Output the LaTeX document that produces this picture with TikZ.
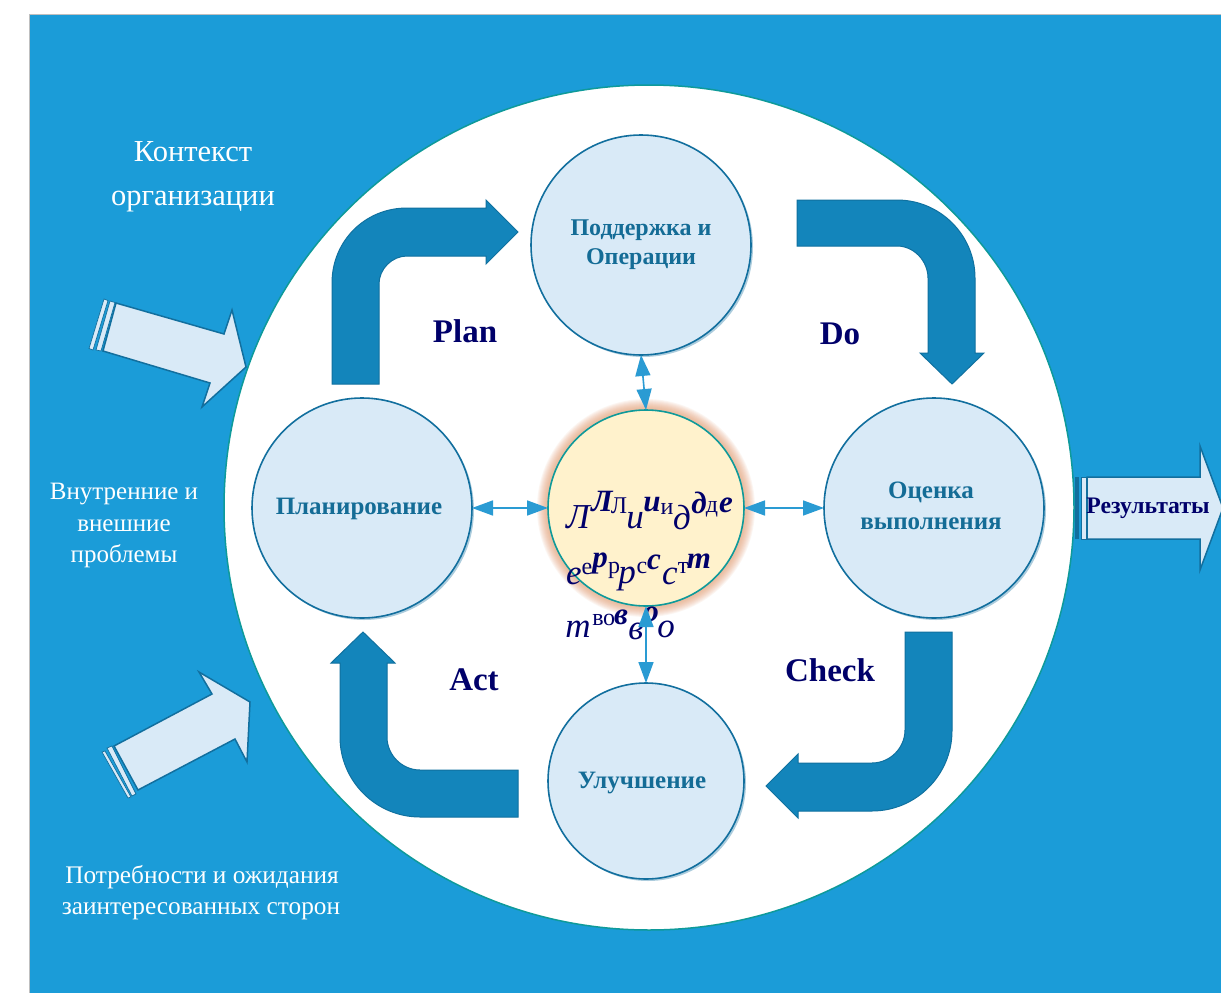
\documentclass[tikz,border=0pt]{standalone}
\usepackage{fontspec}
\setmainfont{Liberation Serif}
\usetikzlibrary{arrows.meta,shapes.geometric}
\definecolor{bgblue}{HTML}{1B9CD8}
\definecolor{arrowblue}{HTML}{1385BB}
\definecolor{paleblue}{HTML}{D9EAF7}
\definecolor{edgeblue}{HTML}{126F9E}
\definecolor{tealedge}{HTML}{0E9A9A}
\definecolor{creamfill}{HTML}{FFF2CC}
\definecolor{glowc}{HTML}{E39A6C}
\definecolor{navytxt}{HTML}{00006A}
\definecolor{titletxt}{HTML}{146C96}
\definecolor{linkblue}{HTML}{2A9BD3}
\tikzset{
  x=1pt,y=-1pt,
  stepcircle/.style={circle,draw=edgeblue,line width=1.6pt,fill=paleblue,inner sep=0pt,outer sep=0pt,minimum size=#1,align=center,text=titletxt,font=\fontsize{24}{29}\selectfont\bfseries},
  steplabel/.style={text=titletxt,inner sep=0pt,align=center,font=\fontsize{25}{31}\selectfont\bfseries},
  bentarrow/.style={fill=arrowblue,draw=arrowblue!85!black,line width=1pt},
  inarrow/.style={fill=paleblue,draw=edgeblue,line width=1.5pt,line join=miter},
  stripe/.style={fill=paleblue,draw=edgeblue,line width=0.7pt},
  whitetxt/.style={text=white,align=center,inner sep=0pt,font=\fontsize{#1}{#1}\selectfont},
  pdca/.style={text=navytxt,inner sep=0pt,font=\fontsize{33}{33}\selectfont\bfseries},
  link/.style={draw=linkblue,line width=1.6pt,{Triangle[length=21pt,width=15pt]}-{Triangle[length=21pt,width=15pt]}},
  gi/.style={text=navytxt,inner sep=0pt,font=\fontsize{35}{35}\selectfont\itshape},
  gb/.style={text=navytxt,inner sep=0pt,font=\fontsize{31}{31}\selectfont\bfseries\itshape},
  gr/.style={text=navytxt,inner sep=0pt,font=\fontsize{24}{24}\selectfont},
}
\begin{document}
\begin{tikzpicture}
\useasboundingbox (0,0) rectangle (1221,993);
\fill[white] (0,0) rectangle (1221,993);
\fill[bgblue] (29,14) rectangle (1221,993);
\draw[gray!50,line width=1pt] (29,993) -- (29,14) -- (1221,14);
% big white disc
\node[ellipse,draw=tealedge,line width=1.5pt,fill=white,inner sep=0pt,outer sep=0pt,minimum width=850pt,minimum height=845pt] (disc) at (649,507.5) {};
% input arrows
\draw[inarrow] (116,303) -- (224,334) -- (232,310) -- (246,367) -- (202,407) -- (210,383) -- (103,351) -- cycle;
\draw[stripe] (104,299) -- (108,300.5) -- (93,350) -- (89,348.5) -- cycle;
\draw[stripe] (110,301) -- (115,302.5) -- (101,351) -- (96,350) -- cycle;
\draw[inarrow] (114,746) -- (212,694) -- (199,672) -- (250,702) -- (247,762) -- (235,739) -- (138,790) -- cycle;
\draw[stripe] (102,752) -- (105,751) -- (131,797) -- (128,798) -- cycle;
\draw[stripe] (107,748) -- (112,746) -- (136,794) -- (132,796) -- cycle;
% output arrow
\fill[edgeblue] (1075,477) rectangle (1079,539);
\draw[stripe,line width=1pt] (1081,477) rectangle (1086,539);
\draw[inarrow] (1087,477) -- (1200,477) -- (1200,446) -- (1223,508) -- (1200,570) -- (1200,539) -- (1087,539) -- cycle;
% bent arrows
\draw[bentarrow] (332,384) -- (332,283) .. controls (332,241) and (365,208) .. (407,208) -- (486,208) -- (486,200) -- (518,232) -- (486,264) -- (486,256) -- (407,256) .. controls (392,256) and (379,269) .. (379,284) -- (379,384) -- cycle;
\draw[bentarrow] (797,200) -- (897,200) .. controls (940,200) and (975,235) .. (975,278) -- (975,353) -- (984,353) -- (952,384) -- (920,353) -- (928,353) -- (928,278) .. controls (928,261) and (914,246) .. (897,246) -- (797,246) -- cycle;
\draw[bentarrow] (905,632) -- (905,730) .. controls (905,748) and (890,763) .. (872,763) -- (798,763) -- (798,754) -- (766,786) -- (798,818) -- (798,811) -- (872,811) .. controls (916,811) and (952,775) .. (952,731) -- (952,632) -- cycle;
\draw[bentarrow] (518,770) -- (420,770) .. controls (402,770) and (387,755) .. (387,737) -- (387,663) -- (395,663) -- (363,632) -- (331,663) -- (340,663) -- (340,737) .. controls (340,781) and (376,817) .. (420,817) -- (518,817) -- cycle;
% shadows
\foreach \cx/\cy/\r in {641/245/110,362/508/110,934/508/110,646/781/98}{
  \fill[edgeblue,opacity=.35] (\cx+2,\cy+2) circle (\r);
}
% glow
\foreach \r in {109,108,107,106,105,104,103,102,101,100}{
  \fill[glowc,opacity=.09] (646,508) circle (\r);
}
% step circles
\node[stepcircle=220pt] (top) at (641,245) {Поддержка и\\Операции};
\node[stepcircle=220pt] (left) at (362,508) {};
\node[stepcircle=220pt] (right) at (934,508) {};
\node[stepcircle=196pt] (bottom) at (646,781) {};
\node[circle,draw=tealedge,line width=1.6pt,fill=creamfill,inner sep=0pt,outer sep=0pt,minimum size=196pt] (centre) at (646,508) {};
\node[steplabel] (t1) at (359,509) {Планирование};
\node[steplabel] (t2) at (931,505.5) {Оценка\\выполнения};
\node[steplabel] (t3) at (642,783) {Улучшение};
% links
\draw[link] (top.south) -- (centre.north);
\draw[link] (left.east) -- (centre.west);
\draw[link] (right.west) -- (centre.east);
% garbled centre text: line 1
\node[gi] (a1) at (578,517) {Л};
\node[gb] (a2) at (602,501) {Л};
\node[gr] (a3) at (619,506) {Л};
\node[gi] (a4) at (635,521) {и};
\node[gb] (a5) at (652,505) {и};
\node[gr] (a6) at (667,509) {и};
\node[gi] (a7) at (682,518) {д};
\node[gb] (a8) at (699,503) {д};
\node[gr] (a9) at (712,509) {д};
\node[gb] (a10) at (726,505) {е};
% line 2
\node[gi] (b1) at (574,576) {е};
\node[gr] (b2) at (587,569) {е};
\node[gb] (b3) at (600,563) {р};
\node[gr] (b4) at (614,570) {р};
\node[gi] (b5) at (627,579) {р};
\node[gr] (b6) at (642,568) {с};
\node[gb] (b7) at (654,562) {с};
\node[gi] (b8) at (670,576) {с};
\node[gr] (b9) at (683,568) {т};
\node[gb] (b10) at (699,561) {т};
% line 3
\node[gi] (c1) at (578,629) {т};
\node[gr] (c2) at (598,620) {в};
\node[gr] (c3) at (609,620) {о};
\node[gb] (c4) at (621,617) {в};
\node[gi] (c5) at (636,631) {в};
\node[gb] (c6) at (651,614) {о};
\node[gi] (c7) at (666,629) {о};
\draw[link] (bottom.north) -- (centre.south);
% labels
\node[whitetxt=30.5] (k1) at (193,152) {Контекст};
\node[whitetxt=30.5] (k2) at (193,202) {организации};
\node[whitetxt=25] (v1) at (124,494) {Внутренние и};
\node[whitetxt=25] (v2) at (124,526) {внешние};
\node[whitetxt=25] (v3) at (124,556) {проблемы};
\node[whitetxt=25.3] (p1) at (202,877) {Потребности и ожидания};
\node[whitetxt=25.3] (p2) at (201,911) {заинтересованных сторон};
\node[pdca] (plan) at (465,331) {Plan};
\node[pdca] (do) at (840,334) {Do};
\node[pdca] (check) at (830,670) {Check};
\node[pdca] (act) at (474,680) {Act};
\node[text=navytxt,inner sep=0pt,font=\fontsize{23.7}{23.7}\selectfont\bfseries] (res) at (1148,508) {Результаты};
\end{tikzpicture}
\end{document}
